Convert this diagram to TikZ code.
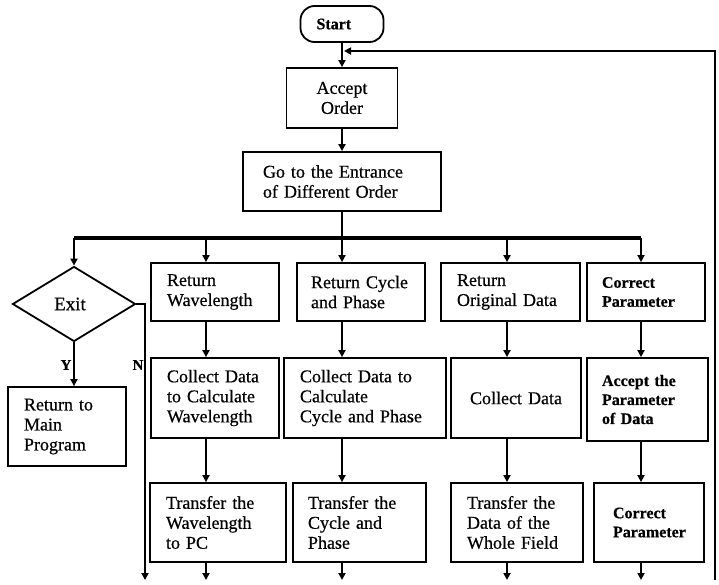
\documentclass[tikz,border=0pt]{standalone}
\usepackage{fontspec}
\setmainfont[FakeBold=0.5]{Liberation Serif}
\usetikzlibrary{arrows.meta,shapes.geometric}
\newcommand\fsA{\fontsize{18}{20}\selectfont}
\newcommand\fsB{\fontsize{16}{19}\selectfont\bfseries}
\newcommand\fsL{\fontsize{15}{15}\selectfont\bfseries}
\begin{document}
\begin{tikzpicture}[x=1pt,y=-1pt,
  box/.style={draw, line width=1.8pt, inner xsep=16pt, inner ysep=0pt, align=left, font=\fsA},
  conn/.style={line width=2.2pt, -{Triangle[length=7pt,width=7pt]}},
  plain/.style={line width=2.2pt},
  bus/.style={line width=3.4pt},
  fback/.style={line width=2.6pt, -{Triangle[length=7pt,width=7pt]}},
  lab/.style={font=\fsL, inner sep=0pt}]
\useasboundingbox (0,0) rectangle (719,584);

% top chain
\node[box, rounded corners=14pt, font=\fsB, text width=51pt, minimum height=36pt] (start) at (342,24) {Start};
\node[box, align=center, text width=79pt, minimum height=60pt] (accept) at (342,98) {Accept\\Order};
\node[box, inner xsep=20pt, text width=158pt, minimum height=59pt] (go) at (342,181.5) {Go to the Entrance\\of Different Order};

% column coordinates on the bus
\coordinate (c0) at (74,238);
\coordinate (c1) at (206,238);
\coordinate (c2) at (342,238);
\coordinate (c3) at (507,238);
\coordinate (c4) at (641,238);
\coordinate (bot) at (0,580);
\coordinate (nx) at (145,238);

% left: exit decision
\node[draw, diamond, line width=1.8pt, minimum width=123pt, minimum height=75pt, inner sep=0pt, font=\fontsize{19}{20}\selectfont] (exit) at (74,304) {\hspace*{-8pt}Exit};
\node[box, text width=86pt, minimum height=79pt] (rmp) at (67,426.5) {Return to\\Main\\Program};

% column 1
\node[box, text width=96pt, minimum height=58pt] (rw) at (215,292) {Return\\Wavelength};
\node[box, text width=96pt, minimum height=80pt] (cw) at (215,398) {Collect Data\\to Calculate\\Wavelength};
\node[box, text width=104pt, minimum height=79pt] (tw) at (218,522.5) {Transfer the\\Wavelength\\to PC};

% column 2
\node[box, inner xsep=14pt, text width=100pt, minimum height=58pt] (rc) at (361,292) {Return Cycle\\and Phase};
\node[box, text width=130pt, minimum height=80pt] (cc) at (365,398) {Collect Data to\\Calculate\\Cycle and Phase};
\node[box, inner xsep=15pt, text width=103pt, minimum height=79pt] (tc) at (359.5,522.5) {Transfer the\\Cycle and\\Phase};

% column 3
\node[box, text width=107pt, minimum height=58pt] (ro) at (510.5,292) {Return\\Original Data};
\node[box, align=center, text width=98pt, minimum height=80pt] (cd) at (516,398) {Collect Data};
\node[box, text width=100pt, minimum height=79pt] (td) at (517,522.5) {Transfer the\\Data of the\\Whole Field};

% column 4
\node[box, inner xsep=15pt, font=\fsB, text width=88pt, minimum height=58pt] (cp1) at (646,292) {Correct\\Parameter};
\node[box, inner xsep=15pt, font=\fsB, text width=91pt, minimum height=83pt] (ap) at (647.5,399.5) {Accept the\\Parameter\\of Data};
\node[box, inner xsep=19pt, font=\fsB, text width=72pt, minimum height=79pt] (cp2) at (649,522.5) {Correct\\Parameter};

% labels
\node[lab] (ylab) at (66,365) {Y};
\node[lab] (nlab) at (138,365) {N};

% top connectors
\draw[conn] (start.south) -- (accept.north);
\draw[conn] (accept.south) -- (go.north);
\draw[plain] (go.south) -- (c2);
\draw[bus] (c0) -- (c4);

% branches from the bus
\draw[conn] (c0) -- (exit.north);
\draw[conn] (c1) -- (c1 |- rw.north);
\draw[conn] (c2) -- (c2 |- rc.north);
\draw[conn] (c3) -- (c3 |- ro.north);
\draw[conn] (c4) -- (c4 |- cp1.north);

% exit branches
\draw[conn] (exit.south) -- (exit.south |- rmp.north);
\draw[conn] (exit.east) -- (nx |- exit.east) -- (nx |- bot);

% column flows
\draw[conn] (c1 |- rw.south) -- (c1 |- cw.north);
\draw[conn] (c1 |- cw.south) -- (c1 |- tw.north);
\draw[conn] (c1 |- tw.south) -- (c1 |- bot);

\draw[conn] (c2 |- rc.south) -- (c2 |- cc.north);
\draw[conn] (c2 |- cc.south) -- (c2 |- tc.north);
\draw[conn] (c2 |- tc.south) -- (c2 |- bot);

\draw[conn] (c3 |- ro.south) -- (c3 |- cd.north);
\draw[conn] (c3 |- cd.south) -- (c3 |- td.north);
\draw[conn] (c3 |- td.south) -- (c3 |- bot);

\draw[conn] (c4 |- cp1.south) -- (c4 |- ap.north);
\draw[conn] (c4 |- ap.south) -- (c4 |- cp2.north);
\draw[conn] (c4 |- cp2.south) -- (c4 |- bot);

% feedback loop
\coordinate (fbB) at (715,580);
\coordinate (fbT) at (715,51);
\coordinate (fbE) at (344,51);
\draw[fback] (fbB) -- (fbT) -- (fbE);
\end{tikzpicture}
\end{document}
